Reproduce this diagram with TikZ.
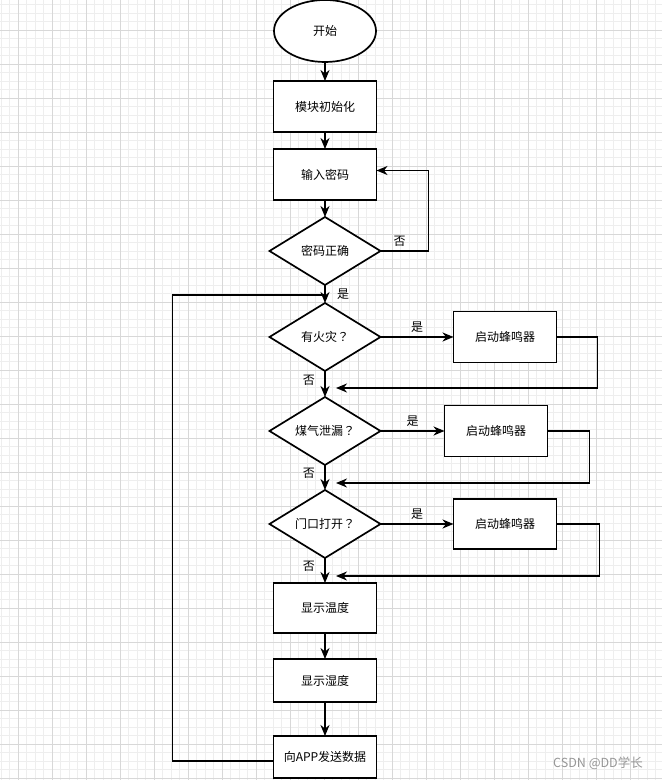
\documentclass[tikz,border=0pt]{standalone}
\usepackage{fontspec}
\usepackage{tikz}
\usetikzlibrary{positioning,shapes.geometric,arrows.meta}
\newfontfamily\cjk{Noto Sans CJK SC}
\newfontfamily\cjkq{Noto Sans CJK JP}
\newcommand{\qmark}{{\cjkq ？}}
\definecolor{gridmajor}{RGB}{216,216,216}
\definecolor{gridminor}{RGB}{238,238,238}
\definecolor{markgray}{RGB}{150,150,150}

\begin{document}
\begin{tikzpicture}[
    x=1pt, y=1pt,
    node distance=17pt and 73pt,
    every node/.style={font=\cjk\fontsize{12pt}{14pt}\selectfont},
    box/.style={draw, line width=1.7pt, fill=white, minimum width=103pt, minimum height=51pt, align=center, inner sep=2pt, outer sep=0pt},
    terminal/.style={ellipse, draw, line width=1.7pt, fill=white, minimum width=102pt, minimum height=62pt, inner sep=1pt, outer sep=0pt},
    decision/.style={diamond, draw, line width=1.7pt, fill=white, shape aspect=1.63, minimum width=111pt, minimum height=68pt, inner sep=0pt, outer sep=0pt},
    line/.style={line width=1.7pt},
    arrow/.style={->, >={Stealth[length=11pt, width=9pt, inset=3.5pt]}, line width=1.7pt}
]
    % Background grid
    \useasboundingbox (0,0) rectangle (662,780);
    \fill[white] (0,0) rectangle (662,780);
    \foreach \i in {0,...,77} {
        \draw[gridminor, line width=0.6pt] (1+8.5*\i,0) -- (1+8.5*\i,780);
    }
    \foreach \i in {0,...,91} {
        \draw[gridminor, line width=0.6pt] (0,775.5-8.5*\i) -- (662,775.5-8.5*\i);
    }
    \foreach \i in {0,...,19} {
        \draw[gridmajor, line width=0.7pt] (18+34*\i,0) -- (18+34*\i,780);
    }
    \foreach \i in {0,...,22} {
        \draw[gridmajor, line width=0.7pt] (0,750-34*\i) -- (662,750-34*\i);
    }

    % Nodes
    \node [terminal] (start) at (325,749) {开始};
    \node [box, below=19pt of start] (init) {模块初始化};
    \node [box, below=17pt of init] (input) {输入密码};
    \node [decision, below=17pt of input] (check) {密码正确};
    \node [decision, below=18pt of check] (fire) {有火灾\qmark};
    \node [decision, below=26pt of fire] (gas) {煤气泄漏\qmark};
    \node [decision, below=25pt of gas] (door) {门口打开\qmark};
    \node [box, below=25pt of door, minimum height=50pt] (temp) {显示温度};
    \node [box, below=26pt of temp, minimum height=43pt] (humid) {显示湿度};
    \node [box, below=34pt of humid, minimum height=42pt] (send) {向APP发送数据};
    \node [box, right=73pt of fire] (buzz1) {启动蜂鸣器};
    \node [box, right=64pt of gas] (buzz2) {启动蜂鸣器};
    \node [box, right=73pt of door, minimum height=50pt] (buzz3) {启动蜂鸣器};
    \node [text=markgray, font=\cjk\fontsize{12.5pt}{14pt}\selectfont] (mark) at (598,17) {CSDN @DD学长};

    \coordinate (ret1) at ([xshift=11pt,yshift=-17pt]fire.south);
    \coordinate (ret2) at ([xshift=11pt,yshift=-18pt]gas.south);
    \coordinate (ret3) at ([xshift=11pt,yshift=-18pt]door.south);
    \coordinate (loopin) at ([yshift=-10pt]check.south);

    % Paths
    \draw [arrow] (start) -- (init);
    \draw [arrow] (init) -- (input);
    \draw [arrow] (input) -- (check);
    \draw [arrow] (check.east) -- node[above, pos=0.4] {否} ++(48pt,0) |- ([yshift=4pt]input.east);
    \draw [arrow] (check) -- node[right=8pt] {是} (fire);

    \draw [arrow] (fire) -- node[above] {是} (buzz1);
    \draw [arrow] (buzz1.east) -- ++(41pt,0) |- (ret1);
    \draw [arrow] (fire) -- node[left=6pt, pos=0.35] {否} (gas);

    \draw [arrow] (gas) -- node[above] {是} (buzz2);
    \draw [arrow] (buzz2.east) -- ++(42pt,0) |- (ret2);
    \draw [arrow] (gas) -- node[left=6pt, pos=0.35] {否} (door);

    \draw [arrow] (door) -- node[above] {是} (buzz3);
    \draw [arrow] (buzz3.east) -- ++(43pt,0) |- (ret3);
    \draw [arrow] (door) -- node[left=6pt, pos=0.35] {否} (temp);

    \draw [arrow] (temp) -- (humid);
    \draw [arrow] (humid) -- (send);
    \draw [line] ([yshift=-4pt]send.west) -- ++(-101pt,0) |- (loopin);
\end{tikzpicture}
\end{document}
